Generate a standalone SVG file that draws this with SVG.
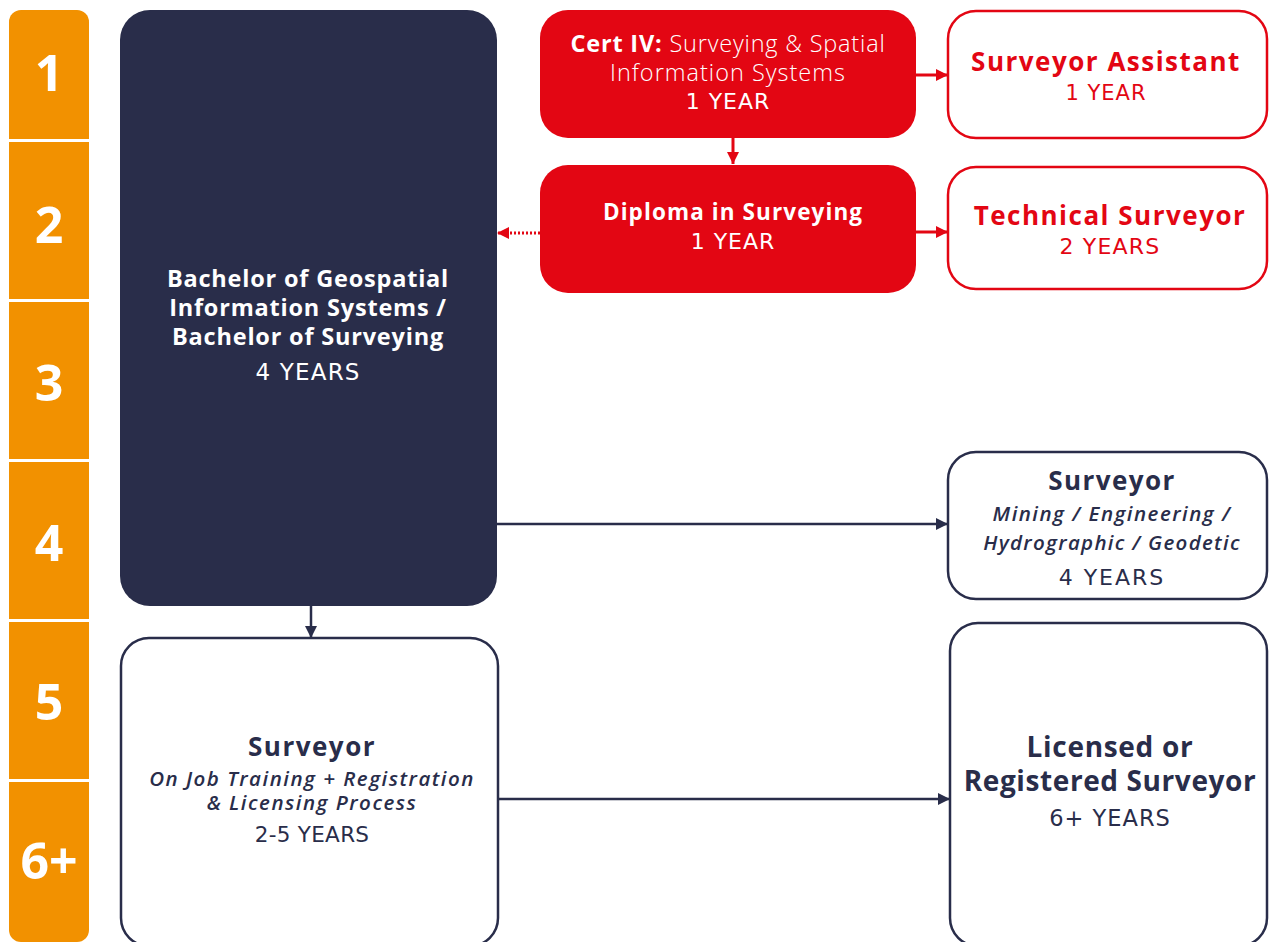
<svg xmlns="http://www.w3.org/2000/svg" width="1269" height="942" viewBox="0 0 1269 942">
<defs>
<style>
text{font-family:"Open Sans","Liberation Sans",sans-serif;text-anchor:middle}
.num{fill:#fff;font-weight:700;font-size:50px}
.b{font-weight:700}
.lt{font-weight:300}
.i{font-style:italic;font-weight:600}
.y{font-family:"DejaVu Sans","Open Sans",sans-serif;font-weight:400}
.w{fill:#fff}
.r{fill:#e30613}
.d{fill:#292d4a}
.redbox{fill:#e30613}
.redout{fill:#fff;stroke:#e30613;stroke-width:2.5}
.darkout{fill:#fff;stroke:#292d4a;stroke-width:2.5}
.cr{stroke:#e30613;stroke-width:3;fill:none}
.cd{stroke:#292d4a;stroke-width:2.5;fill:none}
</style>
<marker id="ar" viewBox="0 0 10 10" refX="10" refY="5" markerWidth="12" markerHeight="15" markerUnits="userSpaceOnUse" orient="auto"><path d="M0,0 L10,5 L0,10 z" fill="#e30613"/></marker>
<marker id="ad" viewBox="0 0 10 10" refX="10" refY="5" markerWidth="12" markerHeight="15" markerUnits="userSpaceOnUse" orient="auto"><path d="M0,0 L10,5 L0,10 z" fill="#292d4a"/></marker>
</defs>
<rect width="1269" height="942" fill="#fff"/>
<g id="years">
<rect x="9" y="10" width="80" height="932" rx="12" fill="#f29100"/>
<g fill="#fff">
<rect x="9" y="139" width="80" height="3"/>
<rect x="9" y="299" width="80" height="3"/>
<rect x="9" y="459" width="80" height="3"/>
<rect x="9" y="619" width="80" height="3"/>
<rect x="9" y="779" width="80" height="3"/>
</g>
<text class="num" x="49" y="91">1</text>
<text class="num" x="49" y="243">2</text>
<text class="num" x="49" y="401">3</text>
<text class="num" x="49" y="561">4</text>
<text class="num" x="49" y="720">5</text>
<text class="num" x="49" y="879">6+</text>
</g>
<g id="connectors">
<line class="cr" x1="916" y1="75" x2="948" y2="75" marker-end="url(#ar)"/>
<line class="cr" x1="733" y1="138" x2="733" y2="164" marker-end="url(#ar)"/>
<line class="cr" x1="916" y1="232" x2="948" y2="232" marker-end="url(#ar)"/>
<line class="cr" x1="540" y1="233" x2="497" y2="233" stroke-dasharray="2 2" stroke-width="2.5" marker-end="url(#ar)"/>
<line class="cd" x1="311" y1="606" x2="311" y2="638" marker-end="url(#ad)"/>
<line class="cd" x1="496" y1="524" x2="948" y2="524" marker-end="url(#ad)"/>
<line class="cd" x1="498" y1="799" x2="950" y2="799" marker-end="url(#ad)"/>
</g>
<g id="bachelor">
<rect x="120" y="10" width="377" height="596" rx="30" fill="#292d4a"/>
<text class="w b" x="308" y="287" font-size="23.5" letter-spacing="0.8">Bachelor of Geospatial</text>
<text class="w b" x="308" y="316" font-size="23.5" letter-spacing="0.8">Information Systems /</text>
<text class="w b" x="308" y="345" font-size="23.5" letter-spacing="0.8">Bachelor of Surveying</text>
<text class="w y" x="308" y="380" font-size="23" letter-spacing="1.2">4 YEARS</text>
</g>
<g id="cert">
<rect x="540" y="10" width="376" height="128" rx="28" class="redbox"/>
<text class="w" x="728" y="52" font-size="23.5" letter-spacing="0.8"><tspan class="b">Cert IV:</tspan><tspan class="lt"> Surveying &amp; Spatial</tspan></text>
<text class="w lt" x="728" y="81" font-size="23.5" letter-spacing="1">Information Systems</text>
<text class="w y" x="728" y="109" font-size="22" letter-spacing="1">1 YEAR</text>
</g>
<g id="diploma">
<rect x="540" y="165" width="376" height="128" rx="28" class="redbox"/>
<text class="w b" x="733" y="220" font-size="22.5" letter-spacing="1.1">Diploma in Surveying</text>
<text class="w y" x="733" y="249" font-size="22" letter-spacing="1">1 YEAR</text>
</g>
<g id="assistant">
<rect x="948" y="11" width="319" height="127" rx="28" class="redout"/>
<text class="r b" x="1106" y="71" font-size="26" letter-spacing="1.5">Surveyor Assistant</text>
<text class="r y" x="1106" y="100" font-size="21" letter-spacing="1">1 YEAR</text>
</g>
<g id="technical">
<rect x="948" y="167" width="319" height="122" rx="28" class="redout"/>
<text class="r b" x="1110" y="225" font-size="26" letter-spacing="1.5">Technical Surveyor</text>
<text class="r y" x="1110" y="254" font-size="22" letter-spacing="1.2">2 YEARS</text>
</g>
<g id="surveyor-mining">
<rect x="948" y="452" width="319" height="147" rx="28" class="darkout"/>
<text class="d b" x="1112" y="490" font-size="26" letter-spacing="1.4">Surveyor</text>
<text class="d i" x="1112" y="521" font-size="20.5" letter-spacing="1.5">Mining / Engineering /</text>
<text class="d i" x="1112" y="550" font-size="20.5" letter-spacing="1.3">Hydrographic / Geodetic</text>
<text class="d y" x="1112" y="585" font-size="22" letter-spacing="2">4 YEARS</text>
</g>
<g id="surveyor-ojt">
<rect x="121" y="638" width="377" height="308" rx="28" class="darkout"/>
<text class="d b" x="312" y="756" font-size="26" letter-spacing="1.5">Surveyor</text>
<text class="d i" x="312" y="786" font-size="20.5" letter-spacing="1.5">On Job Training + Registration</text>
<text class="d i" x="312" y="810" font-size="20.5" letter-spacing="1.5">&amp; Licensing Process</text>
<text class="d y" x="312" y="842" font-size="21.5" letter-spacing="0.3">2-5 YEARS</text>
</g>
<g id="licensed">
<rect x="950" y="623" width="317" height="323" rx="28" class="darkout"/>
<text class="d b" x="1110" y="757" font-size="28" letter-spacing="0.7">Licensed or</text>
<text class="d b" x="1110" y="791" font-size="28" letter-spacing="0.6">Registered Surveyor</text>
<text class="d y" x="1110" y="826" font-size="22.5" letter-spacing="1">6+ YEARS</text>
</g>
</svg>
